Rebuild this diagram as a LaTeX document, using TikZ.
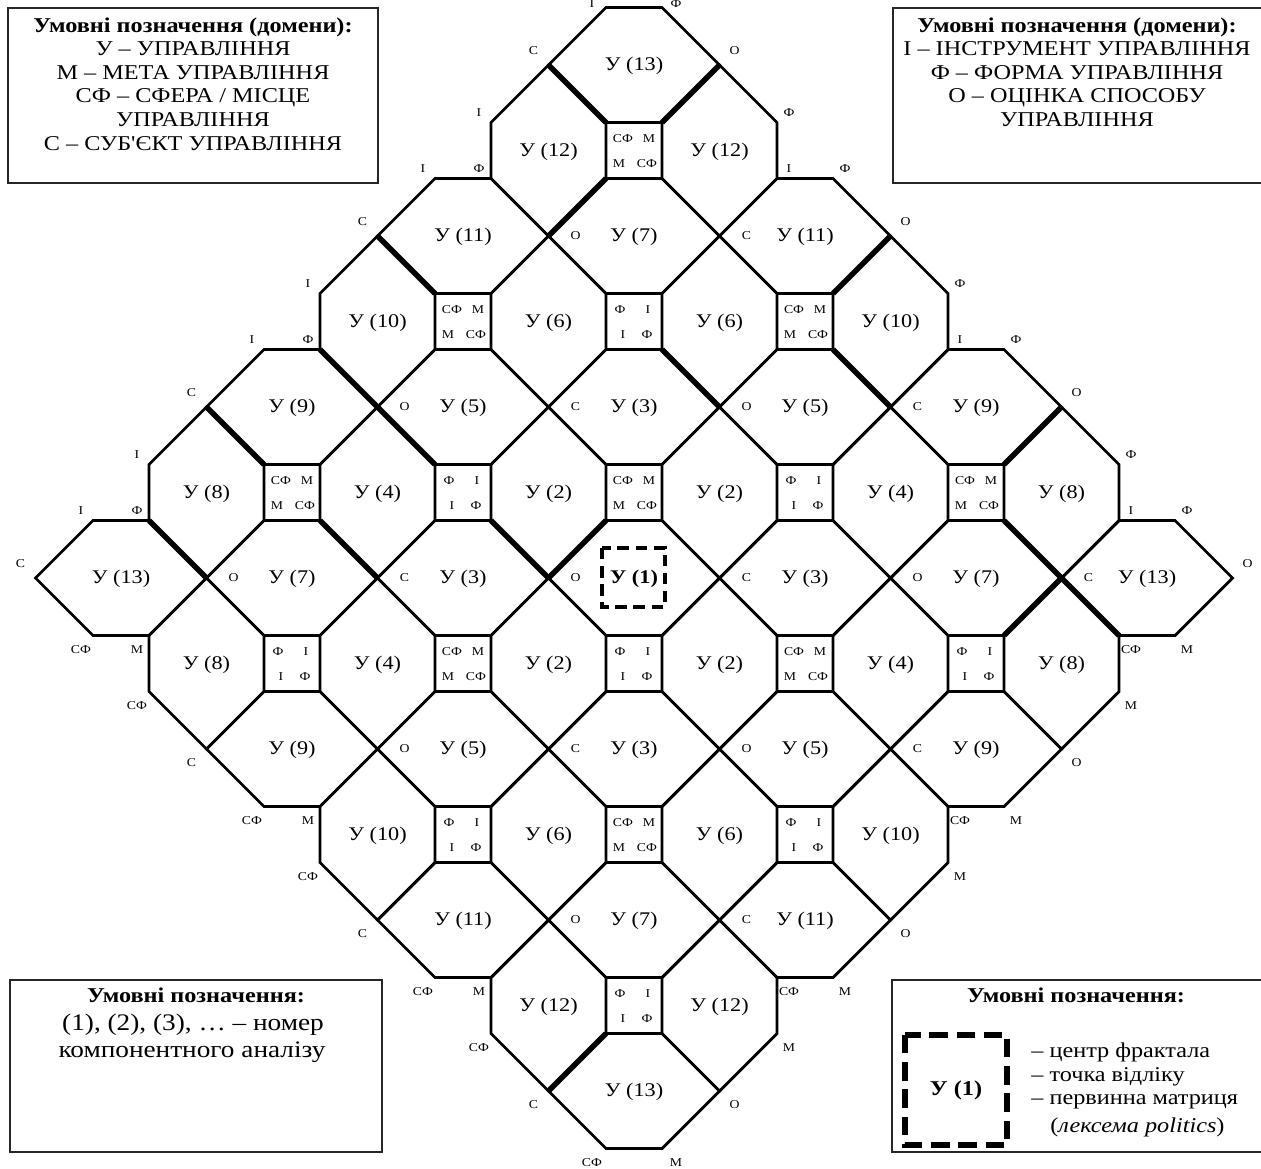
\documentclass[tikz,border=0pt]{standalone}
\usepackage{fontspec}
\setmainfont{Liberation Serif}[Ligatures=TeXOff, FakeStretch=1.15]
\begin{document}
\begin{tikzpicture}[x=0.02cm,y=-0.02cm,
  cellline/.style={line width=1.6pt, line join=miter},
  thickline/.style={line width=3.2pt},
  celltext/.style={font=\fontsize{11}{13}\selectfont, inner sep=0pt},
  small/.style={font=\fontsize{6.8}{8}\selectfont, inner sep=0pt},
  legbox/.style={draw=black!85, line width=1pt},
  legtext/.style={font=\fontsize{12}{13.4}\selectfont, align=center, inner sep=0pt},
  dashbox/.style={line width=2.3pt, dash pattern=on 6.5pt off 3.8pt},
  ]
\useasboundingbox (0,0) rectangle (1261,1169);

\newcommand\cellhex[3]{%
  \pgfmathsetmacro\cx{634+85.5*(#1)}%
  \pgfmathsetmacro\cy{578+85.5*(#2)}%
  \ifodd#1\relax
    \draw[cellline] ({\cx},{\cy-85.5}) -- ({\cx+57.5},{\cy-28}) -- ({\cx+57.5},{\cy+28}) -- ({\cx},{\cy+85.5}) -- ({\cx-57.5},{\cy+28}) -- ({\cx-57.5},{\cy-28}) -- cycle;
  \else
    \draw[cellline] ({\cx-28},{\cy-57.5}) -- ({\cx+28},{\cy-57.5}) -- ({\cx+85.5},{\cy}) -- ({\cx+28},{\cy+57.5}) -- ({\cx-28},{\cy+57.5}) -- ({\cx-85.5},{\cy}) -- cycle;
  \fi
  \node[celltext] (cell#1_#2) at ({\cx},{\cy+1}) {#3};%
}
\newcommand\sqA[2]{%
  \pgfmathsetmacro\cx{634+85.5*(#1)}\pgfmathsetmacro\cy{578+85.5*(#2)}%
  \draw[cellline] ({\cx-28},{\cy-28}) rectangle ({\cx+28},{\cy+28});
  \node[small] (sq#1_#2a) at ({\cx-11},{\cy-12}) {СФ};
  \node[small] (sq#1_#2b) at ({\cx+15},{\cy-12}) {М};
  \node[small] (sq#1_#2c) at ({\cx-15},{\cy+13}) {М};
  \node[small] (sq#1_#2d) at ({\cx+13},{\cy+13}) {СФ};%
}
\newcommand\sqB[2]{%
  \pgfmathsetmacro\cx{634+85.5*(#1)}\pgfmathsetmacro\cy{578+85.5*(#2)}%
  \draw[cellline] ({\cx-28},{\cy-28}) rectangle ({\cx+28},{\cy+28});
  \node[small] (sq#1_#2a) at ({\cx-14},{\cy-12}) {Ф};
  \node[small] (sq#1_#2b) at ({\cx+14},{\cy-12}) {I};
  \node[small] (sq#1_#2c) at ({\cx-11},{\cy+13}) {I};
  \node[small] (sq#1_#2d) at ({\cx+13},{\cy+13}) {Ф};%
}
\newcommand\glab[6]{%
  \pgfmathsetmacro\cx{634+85.5*(#1)}\pgfmathsetmacro\cy{578+85.5*(#2)}%
  \node[small] (#6) at ({\cx+#3},{\cy+#4}) {#5};%
}
\newcommand\thk[4]{%
  \draw[thickline] ({634+85.5*(#1)},{578+85.5*(#2)}) -- ({634+85.5*(#3)+28*((#1)-(#3))},{578+85.5*(#4)+28*((#2)-(#4))});%
}

% cells
\foreach \i/\j/\l in {0/-6/13, -1/-5/12, 1/-5/12, -2/-4/11, 0/-4/7, 2/-4/11,
  -3/-3/10, -1/-3/6, 1/-3/6, 3/-3/10, -4/-2/9, -2/-2/5, 0/-2/3, 2/-2/5, 4/-2/9,
  -5/-1/8, -3/-1/4, -1/-1/2, 1/-1/2, 3/-1/4, 5/-1/8,
  -6/0/13, -4/0/7, -2/0/3, 2/0/3, 4/0/7, 6/0/13,
  -5/1/8, -3/1/4, -1/1/2, 1/1/2, 3/1/4, 5/1/8,
  -4/2/9, -2/2/5, 0/2/3, 2/2/5, 4/2/9, -3/3/10, -1/3/6, 1/3/6, 3/3/10,
  -2/4/11, 0/4/7, 2/4/11, -1/5/12, 1/5/12, 0/6/13}
  {\cellhex{\i}{\j}{У (\l)}}
\cellhex{0}{0}{\textbf{У (1)}}

% squares
\foreach \i/\j in {0/-5, -2/-3, 2/-3, -4/-1, 0/-1, 4/-1, -2/1, 2/1, 0/3} {\sqA{\i}{\j}}
\foreach \i/\j in {0/-3, -2/-1, 2/-1, -4/1, 0/1, 4/1, -2/3, 2/3, 0/5} {\sqB{\i}{\j}}

% thick segments
\thk{-1}{-6}{0}{-5}
\thk{1}{-6}{0}{-5}
\thk{-1}{-4}{0}{-5}
\thk{-3}{-4}{-2}{-3}
\thk{3}{-4}{2}{-3}
\thk{1}{-2}{0}{-3}
\thk{3}{-2}{2}{-3}
\thk{-3}{-2}{-4}{-3}
\thk{-3}{-2}{-2}{-1}
\thk{-5}{-2}{-4}{-1}
\thk{-3}{0}{-4}{-1}
\thk{-5}{0}{-6}{-1}
\thk{-1}{0}{-2}{-1}
\thk{5}{-2}{4}{-1}
\thk{5}{0}{4}{-1}
\thk{-1}{0}{0}{-1}
\thk{5}{0}{6}{1}
\thk{5}{0}{4}{1}
\thk{-1}{6}{0}{5}

% X labels (interior)
\foreach \i/\j/\t [count=\n] in {-1/-4/О, 1/-4/С, -3/-2/О, -1/-2/С, 1/-2/О, 3/-2/С,
  -5/0/О, -3/0/С, -1/0/О, 1/0/С, 3/0/О, 5/0/С, -3/2/О, -1/2/С, 1/2/О, 3/2/С, -1/4/О, 1/4/С}
  {\glab{\i}{\j}{27}{0}{\t}{xl\n}}
% X labels (outer)
\foreach \i/\j [count=\n] in {-1/-6, -3/-4, -5/-2, -7/0} {\glab{\i}{\j}{-15}{-14}{С}{xtl\n}}
\foreach \i/\j [count=\n] in {1/-6, 3/-4, 5/-2, 7/0} {\glab{\i}{\j}{15}{-14}{О}{xtr\n}}
\foreach \i/\j [count=\n] in {-1/6, -3/4, -5/2} {\glab{\i}{\j}{-15}{14}{С}{xbl\n}}
\foreach \i/\j [count=\n] in {1/6, 3/4, 5/2} {\glab{\i}{\j}{15}{14}{О}{xbr\n}}
% outer square labels
\foreach \i/\j [count=\n] in {-2/-5, -4/-3, -6/-1} {
  \glab{\i}{\j}{16}{-38}{I}{tla\n}\glab{\i}{\j}{-40}{18}{I}{tlb\n}\glab{\i}{\j}{16}{18}{Ф}{tlc\n}}
\foreach \i/\j [count=\n] in {2/-5, 4/-3, 6/-1} {
  \glab{\i}{\j}{-16}{-38}{Ф}{tra\n}\glab{\i}{\j}{-16}{18}{I}{trb\n}\glab{\i}{\j}{40}{18}{Ф}{trc\n}}
\glab{0}{-7}{-42}{24.5}{I}{topa}\glab{0}{-7}{42}{24.5}{Ф}{topb}
\foreach \i/\j [count=\n] in {-6/1, -4/3, -2/5} {
  \glab{\i}{\j}{-40}{-14}{СФ}{bla\n}\glab{\i}{\j}{16}{-14}{М}{blb\n}\glab{\i}{\j}{16}{42}{СФ}{blc\n}}
\foreach \i/\j [count=\n] in {6/1, 4/3, 2/5} {
  \glab{\i}{\j}{-16}{-14}{СФ}{bra\n}\glab{\i}{\j}{40}{-14}{М}{brb\n}\glab{\i}{\j}{-16}{42}{М}{brc\n}}
\glab{0}{7}{-42}{-14}{СФ}{bota}\glab{0}{7}{42}{-14}{М}{botb}

% centre marker
\draw[dashbox] (602,548) rectangle (665,607);

% legends
\draw[legbox] (8,8) rectangle (378,183);
\node[legtext] (leg1) at (193,84) {\textbf{Умовні позначення (домени):}\\ У – УПРАВЛІННЯ\\ М – МЕТА УПРАВЛІННЯ\\ СФ – СФЕРА / МІСЦЕ\\ УПРАВЛІННЯ\\ С – СУБ'ЄКТ УПРАВЛІННЯ};
\draw[legbox] (893,8) rectangle (1264,183);
\node[legtext] (leg2) at (1077,72) {\textbf{Умовні позначення (домени):}\\ І – ІНСТРУМЕНТ УПРАВЛІННЯ\\ Ф – ФОРМА УПРАВЛІННЯ\\ О – ОЦІНКА СПОСОБУ\\ УПРАВЛІННЯ};
\draw[legbox] (10,980) rectangle (382,1152);
\node[legtext] (leg3) at (196,995) {\textbf{Умовні позначення:}};
\node[legtext, font=\fontsize{13.5}{15}\selectfont] (leg3b) at (193,1025) {(1), (2), (3), … – номер};
\node[legtext, font=\fontsize{13.5}{15}\selectfont] (leg3c) at (192,1052) {компонентного аналізу};
\draw[legbox] (892,980) rectangle (1264,1152);
\node[legtext] (leg4) at (1076,995) {\textbf{Умовні позначення:}};
\draw[line width=3pt, dash pattern=on 10.5pt off 5pt] (905,1035) rectangle (1007,1145);
\node[legtext] (leg4u) at (956,1090) {\textbf{У (1)}};
\node[legtext, anchor=west] (leg4a) at (1031,1052) {– центр фрактала};
\node[legtext, anchor=west] (leg4b) at (1031,1077) {– точка відліку};
\node[legtext, anchor=west] (leg4c) at (1031,1102) {– первинна матриця};
\node[legtext, anchor=west] (leg4d) at (1050,1127) {(\textit{лексема politics})};
\end{tikzpicture}
\end{document}
